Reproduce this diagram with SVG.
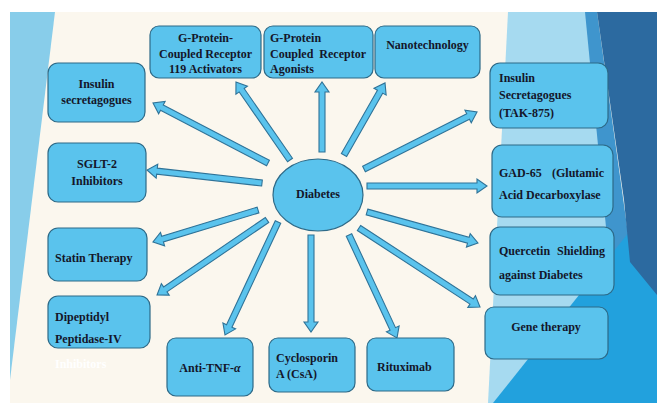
<svg xmlns="http://www.w3.org/2000/svg" width="657" height="403" viewBox="0 0 657 403">
<style>
.box{fill:#5ac3ed;stroke:#2d6a88;stroke-width:1.2}
.arr{fill:#5ac3ed;stroke:#2f7398;stroke-width:1.1}
.t{font-family:"Liberation Serif","Times New Roman",serif;font-weight:bold;font-size:12px;fill:#14162a}
.c{text-anchor:middle}
.e{text-anchor:end}
</style>
<rect x="0" y="0" width="657" height="403" fill="#ffffff"/>
<rect x="10" y="12" width="647" height="391" fill="#fbf7ee"/>
<polygon points="10,12 55,12 10,380" fill="#88cdea"/>
<polygon points="508,12 597,12 640,403 488,403" fill="#a6daf0"/>
<polygon points="585,12 597,12 632,262 610,268" fill="#3f95cd"/>
<polygon points="493,403 657,197 657,403" fill="#22a1dd"/>
<polygon points="597,12 657,12 657,295 630,262 624,200" fill="#2c6aa0"/>
<g id="connectors">
<path class="arr" transform="translate(268,163) rotate(-152.45)" d="M0,-3 L119.7,-3 L119.7,-7 L129.7,0 L119.7,7 L119.7,3 L0,3 Z"/>
<path class="arr" transform="translate(262,183) rotate(-173.55)" d="M0,-3 L105.7,-3 L105.7,-7 L115.7,0 L105.7,7 L105.7,3 L0,3 Z"/>
<path class="arr" transform="translate(290,160) rotate(-124.7)" d="M0,-3 L84.9,-3 L84.9,-7 L94.9,0 L84.9,7 L84.9,3 L0,3 Z"/>
<path class="arr" transform="translate(322,152) rotate(-90)" d="M0,-3 L60,-3 L60,-7 L70,0 L60,7 L60,3 L0,3 Z"/>
<path class="arr" transform="translate(344,155) rotate(-60.35)" d="M0,-3 L72.9,-3 L72.9,-7 L82.9,0 L72.9,7 L72.9,3 L0,3 Z"/>
<path class="arr" transform="translate(364,169) rotate(-26.77)" d="M0,-3 L116.6,-3 L116.6,-7 L126.6,0 L116.6,7 L116.6,3 L0,3 Z"/>
<path class="arr" transform="translate(367,186)" d="M0,-3 L110,-3 L110,-7 L120,0 L110,7 L110,3 L0,3 Z"/>
<path class="arr" transform="translate(367,212) rotate(15.6)" d="M0,-3 L105.2,-3 L105.2,-7 L115.2,0 L105.2,7 L105.2,3 L0,3 Z"/>
<path class="arr" transform="translate(359,228) rotate(33.14)" d="M0,-3 L134.5,-3 L134.5,-7 L144.5,0 L134.5,7 L134.5,3 L0,3 Z"/>
<path class="arr" transform="translate(349,235) rotate(65)" d="M0,-3 L103.6,-3 L103.6,-7 L113.6,0 L103.6,7 L103.6,3 L0,3 Z"/>
<path class="arr" transform="translate(311,235) rotate(90)" d="M0,-3 L87,-3 L87,-7 L97,0 L87,7 L87,3 L0,3 Z"/>
<path class="arr" transform="translate(278,222) rotate(115.13)" d="M0,-3 L114.8,-3 L114.8,-7 L124.8,0 L114.8,7 L114.8,3 L0,3 Z"/>
<path class="arr" transform="translate(267,220) rotate(145.71)" d="M0,-3 L123.1,-3 L123.1,-7 L133.1,0 L123.1,7 L123.1,3 L0,3 Z"/>
<path class="arr" transform="translate(258,210) rotate(163.05)" d="M0,-3 L99.8,-3 L99.8,-7 L109.8,0 L99.8,7 L99.8,3 L0,3 Z"/>
</g>
<g id="diabetes">
<ellipse cx="318" cy="195" rx="45" ry="36" class="box"/>
<text class="t c" x="318" y="198">Diabetes</text>
</g>
<g id="gpr119">
<rect class="box" x="150" y="26" width="111" height="52" rx="9"/>
<text class="t c" x="205.5" y="42">G-Protein-</text>
<text class="t c" x="205.5" y="58">Coupled Receptor</text>
<text class="t c" x="205.5" y="73">119 Activators</text>
</g>
<g id="gpcagonists">
<rect class="box" x="264" y="26" width="109" height="52" rx="9"/>
<text class="t" x="270" y="42">G-Protein</text>
<text class="t" x="270" y="58">Coupled</text>
<text class="t e" x="366" y="58">Receptor</text>
<text class="t" x="270" y="73">Agonists</text>
</g>
<g id="nanotech">
<rect class="box" x="375" y="26" width="105" height="52" rx="9"/>
<text class="t c" x="427.5" y="49">Nanotechnology</text>
</g>
<g id="insulin-left">
<rect class="box" x="48" y="63" width="97" height="59" rx="10"/>
<text class="t c" x="96.5" y="88">Insulin</text>
<text class="t c" x="96.5" y="104">secretagogues</text>
</g>
<g id="sglt2">
<rect class="box" x="48" y="143" width="98" height="59" rx="10"/>
<text class="t c" x="97" y="168">SGLT-2</text>
<text class="t c" x="97" y="185">Inhibitors</text>
</g>
<g id="statin">
<rect class="box" x="48" y="228" width="99" height="53" rx="10"/>
<text class="t" x="55" y="262">Statin Therapy</text>
</g>
<g id="dpp4">
<rect class="box" x="48" y="296" width="102" height="52" rx="10"/>
<text class="t" x="55" y="321">Dipeptidyl</text>
<text class="t" x="55" y="343">Peptidase-IV</text>
<text class="t" x="55" y="368" style="fill:#ffffff">Inhibitors</text>
</g>
<g id="antitnf">
<rect class="box" x="167" y="338" width="86" height="58" rx="9"/>
<text class="t c" x="210" y="372">Anti-TNF-<tspan font-style="italic">α</tspan></text>
</g>
<g id="cyclosporin">
<rect class="box" x="269" y="338" width="86" height="54" rx="9"/>
<text class="t" x="276" y="362">Cyclosporin</text>
<text class="t" x="276" y="378">A (CsA)</text>
</g>
<g id="rituximab">
<rect class="box" x="367" y="338" width="87" height="53" rx="9"/>
<text class="t" x="377" y="371">Rituximab</text>
</g>
<g id="genetherapy">
<rect class="box" x="485" y="307" width="123" height="52" rx="9"/>
<text class="t c" x="546" y="331">Gene therapy</text>
</g>
<g id="quercetin">
<rect class="box" x="490" y="227" width="124" height="68" rx="10"/>
<text class="t" x="499" y="255">Quercetin</text>
<text class="t e" x="605" y="255">Shielding</text>
<text class="t" x="499" y="279">against Diabetes</text>
</g>
<g id="gad65">
<rect class="box" x="492" y="145" width="121" height="72" rx="10"/>
<text class="t" x="499" y="177">GAD-65</text>
<text class="t e" x="604" y="177">(Glutamic</text>
<text class="t" x="499" y="199">Acid Decarboxylase</text>
</g>
<g id="tak875">
<rect class="box" x="490" y="63" width="118" height="65" rx="10"/>
<text class="t" x="499" y="82">Insulin</text>
<text class="t" x="499" y="99">Secretagogues</text>
<text class="t" x="499" y="117">(TAK-875)</text>
</g>
</svg>
